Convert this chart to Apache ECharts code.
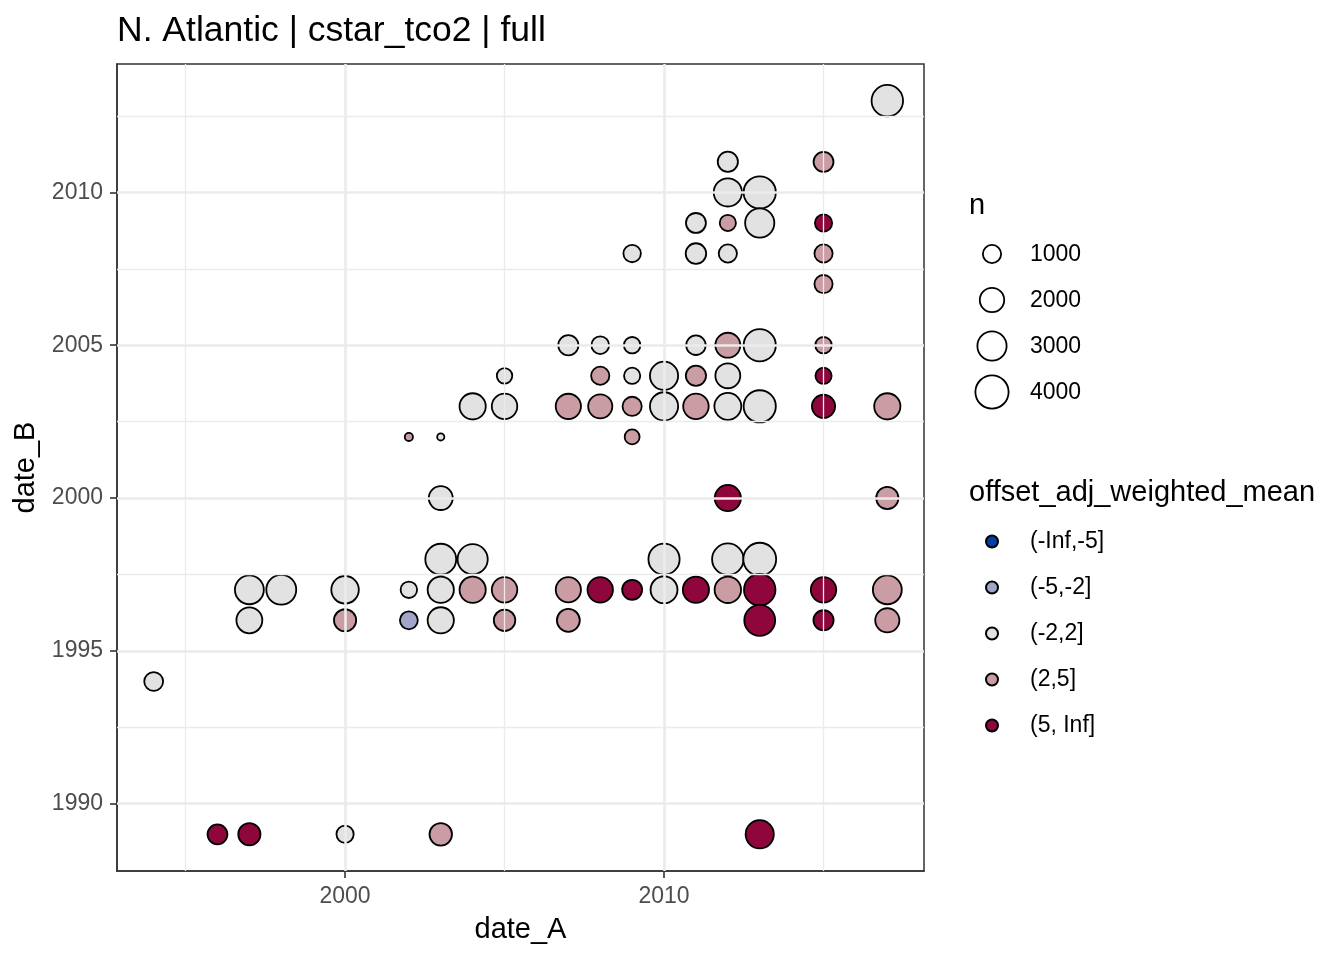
<!DOCTYPE html>
<html><head><meta charset="utf-8">
<script src="https://cdn.jsdelivr.net/npm/echarts@6/dist/echarts.min.js"></script>
<style>html,body{margin:0;padding:0;background:#fff}#c{width:1344px;height:960px}</style>
</head><body><div id="c"></div>
<script>
// ---- data ----
const dateA = [1994,1996,1997,1997,1997,1998,2000,2000,2000,2002,2002,2002,
  2003,2003,2003,2003,2003,2003,2004,2004,2004,2005,2005,2005,2005,
  2007,2007,2007,2007,2008,2008,2008,2008,2009,2009,2009,2009,2009,2009,
  2010,2010,2010,2010,2011,2011,2011,2011,2011,2011,
  2012,2012,2012,2012,2012,2012,2012,2012,2012,2012,
  2013,2013,2013,2013,2013,2013,2013,2013,
  2015,2015,2015,2015,2015,2015,2015,2015,2015,
  2017,2017,2017,2017,2017];
const dateB = [1994,1989,1989,1997,1996,1997,1997,1996,1989,2002,1997,1996,
  2002,2000,1998,1997,1996,1989,2003,1998,1997,2004,2003,1997,1996,
  2005,2003,1997,1996,2005,2004,2003,1997,2008,2005,2004,2003,2002,1997,
  2004,2003,1998,1997,2009,2008,2005,2004,2003,1997,
  2011,2010,2009,2008,2005,2004,2003,2000,1998,1997,
  2010,2009,2005,2003,1998,1997,1996,1989,
  2011,2009,2008,2007,2005,2004,2003,1997,1996,
  2013,2003,2000,1997,1996];
const nObs = [1090,1240,1600,2930,2280,3160,2620,1600,870,110,780,960,
  70,1900,3400,2350,2350,1650,2350,3230,2350,670,2200,2200,1480,
  1280,2150,2150,1720,930,1000,1950,2200,900,780,750,1135,610,1240,
  2770,2770,3470,2490,1240,1330,1180,1280,2200,2350,
  1280,2770,750,1000,2090,2090,2490,2350,3550,2400,
  3730,3000,3730,3730,3900,3550,3400,2770,
  1240,870,1000,1000,780,750,1770,2200,1280,
  3550,2350,1600,2930,1950];
const binLabels = ["(-Inf,-5]","(-5,-2]","(-2,2]","(2,5]","(5, Inf]"];
const offsetBin = [2,4,4,2,2,2,2,3,2,3,2,1,
  2,2,2,2,2,3,2,2,3,2,2,3,3,
  2,3,3,3,2,3,3,4,2,2,2,3,3,4,
  2,2,2,2,2,2,2,3,3,4,
  2,2,3,2,3,2,2,4,2,3,
  2,2,2,2,2,4,4,4,
  3,4,3,3,3,4,4,4,4,
  2,3,3,3,3];
const binColors = ["#023FA5","#A1A6C8","#E2E2E2","#CA9CA4","#8E063B"];
const sizeBreaks = [1000,2000,3000,4000];
const xMajor = [2000,2010], xMinor = [1995,2005,2015];
const yMajor = [1990,1995,2000,2005,2010], yMinor = [1992.5,1997.5,2002.5,2007.5,2012.5];

// ---- styling ----
const FONT = "'Liberation Sans', Arial, sans-serif";
const BW = 1.8;
function sz(n){ return 5 + 0.475*Math.sqrt(n) - BW; }

const series = binLabels.map((lab, bi) => ({
  type: 'scatter', name: lab, z: 3,
  data: dateA.map((a,i)=>[a, dateB[i], nObs[i], offsetBin[i]]).filter(d=>d[3]===bi).map(d=>[d[0],d[1],d[2]]),
  symbol: 'circle',
  symbolSize: v => sz(v[2]),
  itemStyle: { color: binColors[bi], borderColor: '#000', borderWidth: BW, opacity: 1 },
  emphasis: { disabled: true }
}));

const gridLines = [];
xMajor.forEach(v=>gridLines.push({xAxis:v, lineStyle:{color:'#ebebeb', width:2.6, type:'solid'}}));
xMinor.forEach(v=>gridLines.push({xAxis:v, lineStyle:{color:'#ebebeb', width:1.3, type:'solid'}}));
yMajor.forEach(v=>gridLines.push({yAxis:v, lineStyle:{color:'#ebebeb', width:2.6, type:'solid'}}));
yMinor.forEach(v=>gridLines.push({yAxis:v, lineStyle:{color:'#ebebeb', width:1.3, type:'solid'}}));
series.unshift({
  type: 'line', name: '__grid', data: [], z: 1, silent: true,
  markLine: { silent: true, symbol: ['none','none'], label: {show:false}, animation: false, data: gridLines }
});

const graphics = [
  { type:'text', left: 969, top: 191, style:{ text:'n', font: `29px ${FONT}`, fill:'#000' } },
  { type:'text', left: 969, top: 478, style:{ text:'offset_adj_weighted_mean', font: `29px ${FONT}`, fill:'#000' } }
];
sizeBreaks.forEach((b,i)=>{
  const cy = 254 + i*46;
  graphics.push({ type:'circle', shape:{cx:992, cy:cy, r: sz(b)/2}, style:{fill:'#fff', stroke:'#000', lineWidth: BW} });
  graphics.push({ type:'text', x:1030, y:cy+1, style:{ text:String(b), font:`23px ${FONT}`, fill:'#000', textVerticalAlign:'middle', verticalAlign:'middle' } });
});

const axisTickStyle = { show: true, length: 7, lineStyle: {color:'#333', width: 1.6} };
const chart = echarts.init(document.getElementById('c'), null, {renderer:'canvas'});
chart.setOption({
  animation: false,
  backgroundColor: '#fff',
  textStyle: { fontFamily: FONT },
  title: { text: 'N. Atlantic | cstar_tco2 | full', left: 117, top: 13, padding: 0,
    textStyle: { fontSize: 35.5, fontWeight: 'normal', color: '#000', fontFamily: FONT } },
  grid: { left: 117, right: 420, top: 64, bottom: 89, show: true, borderColor: '#333333', borderWidth: 1.5,
    backgroundColor: '#fff', containLabel: false, outerBoundsMode: 'none' },
  xAxis: { type: 'value', min: 1992.85, max: 2018.15,
    splitLine: {show:false},
    axisLine: {show:true, lineStyle:{color:'#333', width:1.5}},
    axisTick: Object.assign({ customValues: xMajor }, axisTickStyle),
    axisLabel: { customValues: xMajor, formatter: v => String(v), fontSize: 23, color: '#4d4d4d', margin: 14, fontFamily: FONT },
    name: 'date_A', nameLocation: 'middle', nameGap: 44,
    nameTextStyle: { fontSize: 29, color: '#000', fontFamily: FONT } },
  yAxis: { type: 'value', min: 1987.8, max: 2014.2,
    splitLine: {show:false},
    axisLine: {show:true, lineStyle:{color:'#333', width:1.5}},
    axisTick: Object.assign({ customValues: yMajor }, axisTickStyle),
    axisLabel: { customValues: yMajor, formatter: v => String(v), fontSize: 23, color: '#4d4d4d', margin: 14, fontFamily: FONT },
    name: 'date_B', nameLocation: 'middle', nameGap: 67, nameRotate: 90,
    nameTextStyle: { fontSize: 29, color: '#000', fontFamily: FONT } },
  legend: { data: binLabels, orient: 'vertical', left: 985, top: 530, padding: 0,
    itemWidth: 66, itemHeight: 12, itemGap: 23, selectedMode: false, icon: 'circle',
    textStyle: { fontSize: 23, color: '#000', fontFamily: FONT } },
  graphic: graphics,
  series: series
});
</script></body></html>
